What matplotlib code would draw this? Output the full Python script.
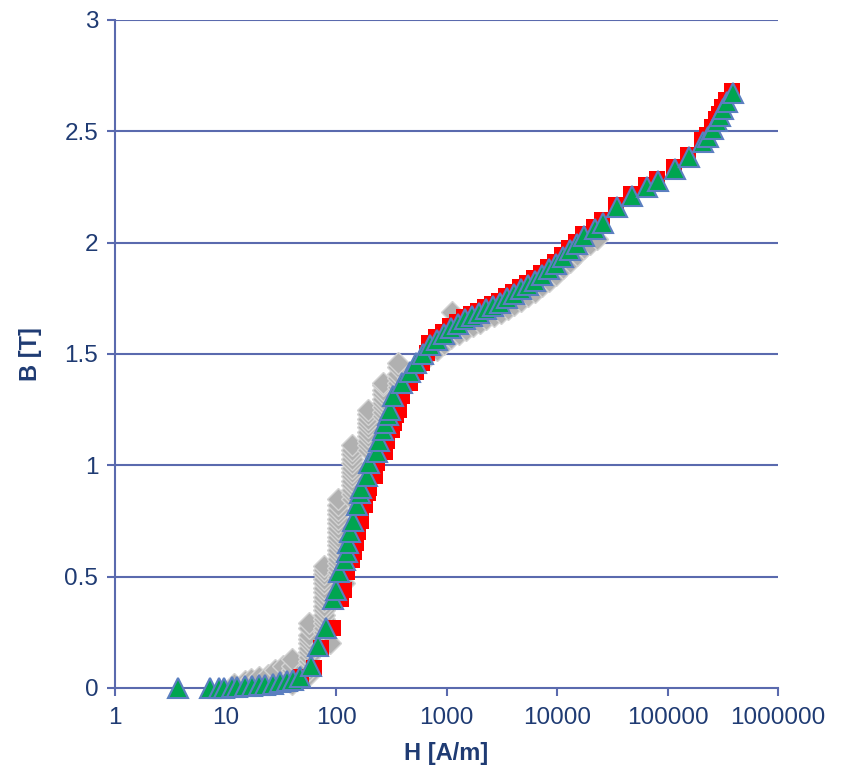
import matplotlib
matplotlib.use("Agg")
import matplotlib.pyplot as plt
from matplotlib.ticker import FixedLocator, NullLocator

# B-H curve, three measurement series
# green triangles
h_green = [3.7, 7.2, 8.7, 9.7, 11.5, 12.7, 15.0, 17.4, 20.1, 22.8, 26.9, 31.1, 36.0, 40.8, 47.2,
           59.4, 68.7, 81, 94, 100, 106, 120, 125, 128, 134, 142, 155, 165, 168, 190, 198,
           235, 245, 266, 280, 295, 310, 328, 395, 467, 530, 612, 710, 820, 949, 1099, 1271,
           1470, 1701, 1968, 2276, 2634, 3048, 3530, 4083, 4721, 5470, 6324, 7311, 8472, 9795,
           11330, 13120, 15170, 17540, 22080, 26060, 34900, 47730, 65200, 82000, 117000,
           156600, 209600, 232700, 258000, 280700, 298700, 317900, 345400, 391600]
b_green = [0.0, 0.0, 0.0, 0.0, 0.005, 0.005, 0.01, 0.01, 0.012, 0.015, 0.02, 0.025, 0.03, 0.035, 0.05,
           0.10, 0.19, 0.27, 0.40, 0.44, 0.52, 0.575, 0.61, 0.65, 0.70, 0.75, 0.82, 0.875, 0.90, 0.95, 1.01,
           1.06, 1.11, 1.16, 1.19, 1.225, 1.25, 1.31, 1.37, 1.42, 1.46, 1.50, 1.54, 1.565, 1.59, 1.615, 1.635,
           1.655, 1.67, 1.685, 1.70, 1.715, 1.73, 1.75, 1.77, 1.79, 1.81, 1.83, 1.855, 1.88, 1.905,
           1.935, 1.965, 1.995, 2.03, 2.06, 2.09, 2.16, 2.21, 2.25, 2.275, 2.33,
           2.385, 2.45, 2.475, 2.51, 2.545, 2.57, 2.60, 2.63, 2.67]

# red squares
h_red = [48, 63, 73, 94, 111, 118, 125, 141, 147, 151, 158, 167, 183, 195, 199, 226, 236,
         280, 292, 318, 334, 352, 370, 392, 465, 535, 595, 660, 700, 805, 930, 1075, 1245,
         1440, 1665, 1925, 2225, 2580, 2985, 3455, 4000, 4625, 5360, 6200, 7160, 8300, 9600,
         11100, 12850, 14860, 17180, 21630, 25530, 34200, 46800, 63900, 80400, 114700,
         153500, 205400, 228000, 252800, 275100, 292700, 311500, 338500, 383800]
b_red = [0.05, 0.09, 0.18, 0.27, 0.40, 0.44, 0.52, 0.575, 0.61, 0.65, 0.70, 0.75, 0.82, 0.875, 0.90, 0.95, 1.01,
         1.06, 1.11, 1.16, 1.19, 1.225, 1.25, 1.31, 1.37, 1.42, 1.46, 1.505, 1.55, 1.575, 1.60, 1.625, 1.645,
         1.665, 1.68, 1.695, 1.71, 1.725, 1.74, 1.76, 1.78, 1.80, 1.82, 1.84, 1.865, 1.89, 1.915,
         1.945, 1.975, 2.005, 2.04, 2.07, 2.10, 2.17, 2.22, 2.26, 2.285, 2.34,
         2.395, 2.46, 2.485, 2.52, 2.555, 2.58, 2.61, 2.64, 2.68]

# grey diamonds
h_grey = [12, 15, 17, 20, 24, 28, 33,
          40, 40, 40, 40, 40, 40,
          57, 57, 57, 57, 57, 57, 57, 57, 57, 57, 57, 57,
          78, 78, 78, 78, 78, 78, 78, 78, 78, 78, 78, 78, 78, 78, 78, 78,
          88, 118,
          104, 104, 104, 104, 104, 104, 104, 104, 104, 104, 104, 104, 104, 104, 104, 104, 104, 104,
          139, 139, 139, 139, 139, 139, 139, 139, 139, 139, 139, 139, 139,
          195, 195, 195, 195, 195, 195, 195, 195, 195, 195,
          265, 265, 265, 265, 265, 265, 265, 265, 265,
          364, 364, 364, 364, 364, 364,
          450, 520, 600, 700, 820, 950, 1100, 1120, 1300, 1500, 1750, 2000, 2300, 2700,
          3100, 3600, 4100, 4700, 5500, 6300, 7300, 8500, 9800, 11300, 13100, 15200,
          17500, 20000, 23000]
b_grey = [0.02, 0.03, 0.04, 0.05, 0.06, 0.08, 0.10,
          0.02, 0.04, 0.06, 0.08, 0.10, 0.13,
          0.06, 0.08, 0.10, 0.12, 0.14, 0.16, 0.18, 0.20, 0.22, 0.24, 0.27, 0.29,
          0.25, 0.27, 0.29, 0.31, 0.33, 0.35, 0.37, 0.39, 0.41, 0.43, 0.45, 0.47, 0.49, 0.51, 0.53, 0.55,
          0.20, 0.47,
          0.50, 0.52, 0.54, 0.56, 0.58, 0.60, 0.62, 0.64, 0.66, 0.68, 0.70, 0.72, 0.74, 0.76, 0.78, 0.80, 0.82, 0.85,
          0.85, 0.87, 0.89, 0.91, 0.93, 0.95, 0.97, 0.99, 1.01, 1.03, 1.05, 1.07, 1.09,
          1.07, 1.09, 1.11, 1.13, 1.15, 1.17, 1.19, 1.21, 1.23, 1.25,
          1.22, 1.24, 1.26, 1.28, 1.30, 1.32, 1.34, 1.36, 1.37,
          1.35, 1.37, 1.39, 1.41, 1.44, 1.46,
          1.39, 1.43, 1.46, 1.50, 1.52, 1.545, 1.57, 1.69, 1.59, 1.61, 1.625, 1.64, 1.655, 1.67,
          1.685, 1.70, 1.72, 1.74, 1.76, 1.78, 1.805, 1.83, 1.855, 1.885, 1.915, 1.945,
          1.975, 1.995, 2.015]

x_ticks = [1, 10, 100, 1000, 10000, 100000, 1000000]
x_labels = ['1', '10', '100', '1000', '10000', '100000', '1000000']
y_ticks = [0, 0.5, 1, 1.5, 2, 2.5, 3]
y_labels = ['0', '0.5', '1', '1.5', '2', '2.5', '3']

navy = '#1F3B73'
axis_col = '#5A6AAE'

plt.rcParams['font.family'] = ['Liberation Sans', 'DejaVu Sans']

fig = plt.figure(figsize=(8.42, 7.72), dpi=100)
ax = fig.add_axes([115 / 842, 1 - 688 / 772, (778 - 115) / 842, (688 - 20) / 772])

ax.plot(h_grey, b_grey, linestyle='none', marker='D', markersize=11,
        markerfacecolor='#B0B0B0', markeredgecolor='#D2D2D2', markeredgewidth=1.0,
        clip_on=False, zorder=3)
ax.plot(h_red, b_red, linestyle='none', marker='s', markersize=12,
        markerfacecolor='#FF0000', markeredgecolor='#FF0000', markeredgewidth=0,
        clip_on=False, zorder=4)
ax.plot(h_green, b_green, linestyle='none', marker='^', markersize=14,
        markerfacecolor='#00A550', markeredgecolor='#5B7FC0', markeredgewidth=1.5,
        clip_on=False, zorder=5)

ax.set_xscale('log')
ax.set_xlim(1, 1000000)
ax.set_ylim(0, 3)
ax.xaxis.set_major_locator(FixedLocator(x_ticks))
ax.xaxis.set_minor_locator(NullLocator())
ax.set_xticklabels(x_labels)
ax.set_yticks(y_ticks)
ax.set_yticklabels(y_labels)

for y in y_ticks[1:]:
    ax.axhline(y, color=axis_col, linewidth=1.5, zorder=1)

for side in ['top', 'right']:
    ax.spines[side].set_visible(False)
for side in ['left', 'bottom']:
    ax.spines[side].set_color(axis_col)
    ax.spines[side].set_linewidth(1.5)
    ax.spines[side].set_zorder(2)

ax.tick_params(axis='both', colors=axis_col, labelcolor=navy, labelsize=17.5,
               length=6, width=1.5, direction='out')
ax.tick_params(axis='x', pad=8)
ax.tick_params(axis='y', pad=6)

ax.set_xlabel('H [A/m]', fontsize=17, fontweight='bold', color=navy, labelpad=9)
ax.set_ylabel('B [T]', fontsize=17, fontweight='bold', color=navy, labelpad=16)

fig.savefig('out.png', dpi=100)
